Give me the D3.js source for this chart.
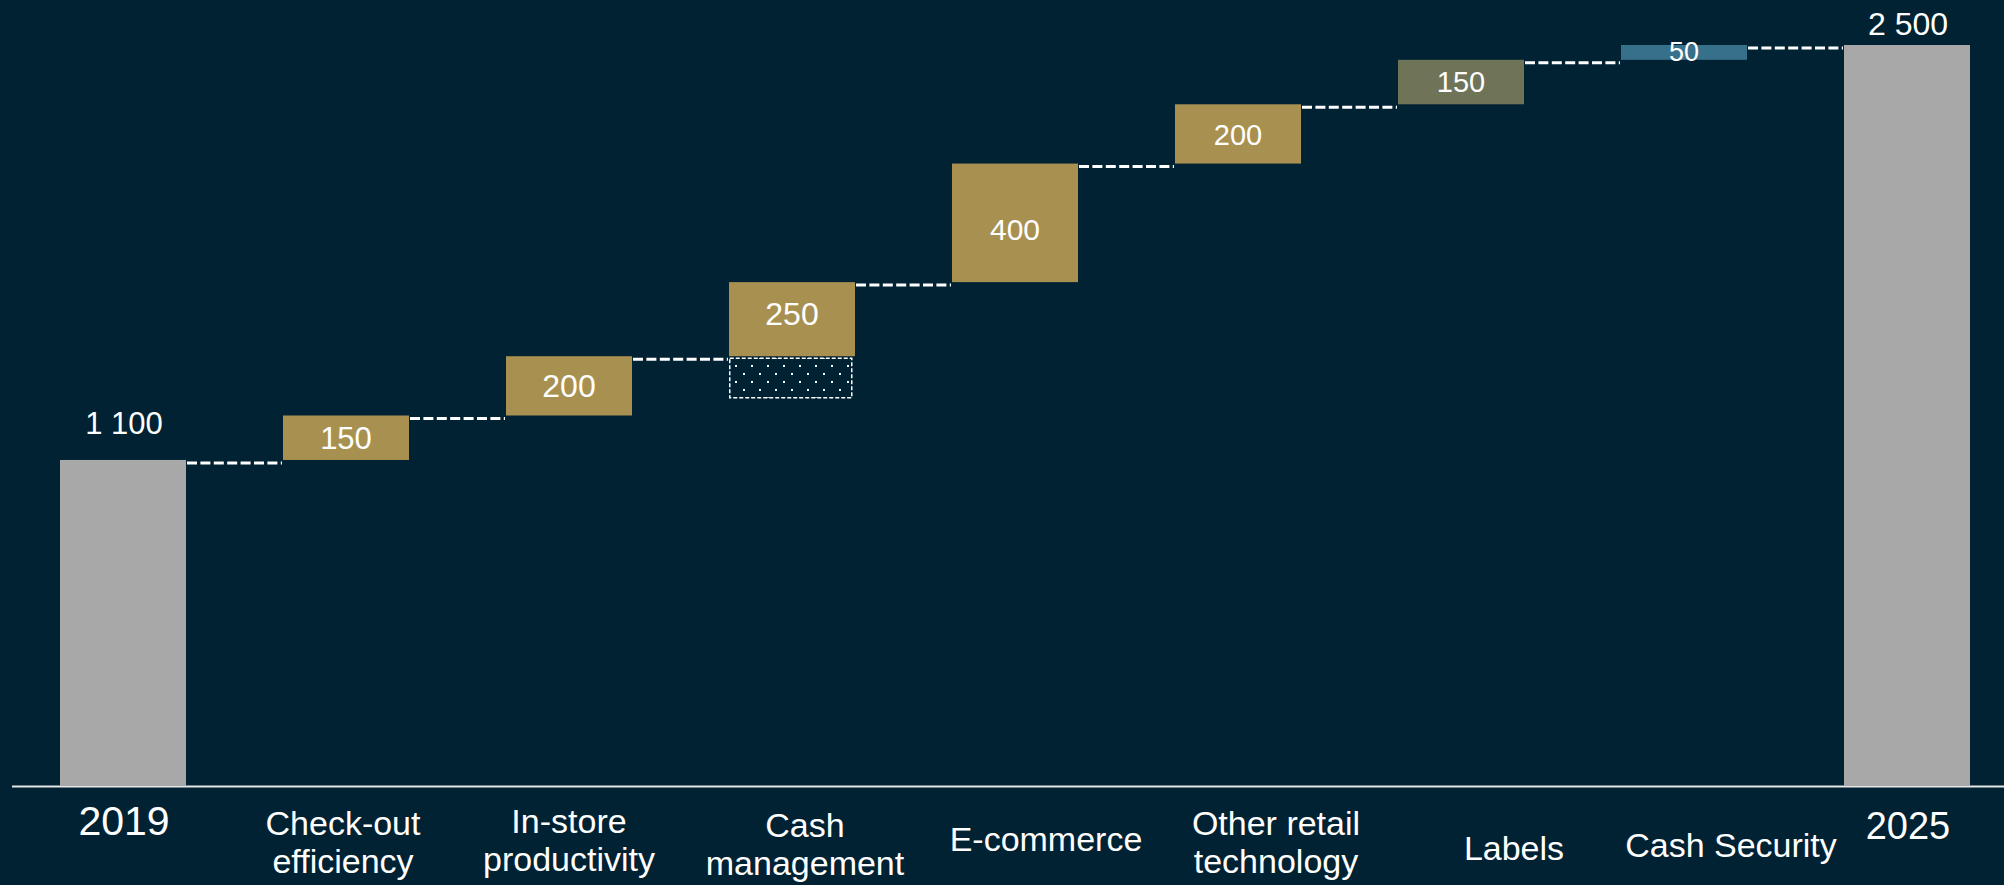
<!DOCTYPE html>
<html>
<head>
<meta charset="utf-8">
<script src="https://cdn.jsdelivr.net/npm/d3@7"></script>
<style>
  html, body { margin: 0; padding: 0; background: #012233; }
  svg { display: block; }
  text { font-family: "Liberation Sans", Arial, sans-serif; fill: #ffffff; }
</style>
</head>
<body>
<svg id="chart" width="2004" height="885"></svg>
<script>
// ---------------- data ----------------
const categories = ["2019", "Check-out\nefficiency", "In-store\nproductivity", "Cash\nmanagement",
  "E-commerce", "Other retail\ntechnology", "Labels", "Cash Security", "2025"];
const kinds = ["total", "delta", "delta", "delta", "delta", "delta", "delta", "delta", "total"];
const values = [1100, 150, 200, 250, 400, 200, 150, 50, 2500];
const valueLabels = ["1 100", "150", "200", "250", "400", "200", "150", "50", "2 500"];
const pendingValues = [0, 0, 0, 140, 0, 0, 0, 0, 0]; // dotted (not yet secured) part below a bar
const yDomain = [0, 2500];

// ---------------- styles / layout ----------------
const W = 2004, H = 885;
const barColors = ["#A8A8A8", "#A89150", "#A89150", "#A89150", "#A89150", "#A89150", "#6F7358", "#37708A", "#A8A8A8"];
const catFont = [41, 34, 34, 34, 34, 34, 34, 34, 38];
const catDx = [1, -3, 0, 13, 31, 38, 53, 47, 1];
const catBaseline = [835, 835, 833, 837, 851, 835, 860, 857, 839];
const valueFont = [31, 31, 32, 32, 30, 29, 29, 27, 32];
const valueDy = [0, 0, 0, -6, 6, 1, 0, -1, 0];
const totalLabelGap = [26, 0, 0, 0, 0, 0, 0, 0, 10];

const svg = d3.select("#chart");
svg.append("rect").attr("width", W).attr("height", H).attr("fill", "#012233");

const x = d3.scaleBand().domain(categories).range([11.5, 2018.5])
  .paddingInner(0.435).paddingOuter(0.2175);
const y = d3.scaleLinear().domain(yDomain).range([786, 45]);

// running totals
let run = 0;
const bars = categories.map((c, i) => {
  let lo, hi;
  if (kinds[i] === "total") { lo = 0; hi = values[i]; run = values[i]; }
  else { lo = run; hi = run + values[i]; run = hi; }
  return { c, i, lo, hi, level: run };
});

// pattern for dotted box
const defs = svg.append("defs");
const pat = defs.append("pattern").attr("id", "dots").attr("patternUnits", "userSpaceOnUse")
  .attr("width", 16).attr("height", 16).attr("x", 735).attr("y", 365);
pat.append("rect").attr("x", 0).attr("y", 0).attr("width", 2).attr("height", 2).attr("fill", "#ffffff");
pat.append("rect").attr("x", 8).attr("y", 8).attr("width", 2).attr("height", 2).attr("fill", "#ffffff");

// axis
const axis = svg.append("g").attr("transform", `translate(0,${y(0)})`)
  .call(d3.axisBottom(x).tickSize(0).tickFormat(""));
axis.select(".domain").attr("stroke", "#E6E6E6").attr("stroke-width", 2);

// connectors
const conn = svg.append("g");
for (let i = 0; i < bars.length - 1; i++) {
  const yy = y(bars[i].level) + 3;
  conn.append("line")
    .attr("x1", x(categories[i]) + x.bandwidth() + 1)
    .attr("x2", x(categories[i + 1]) - 1)
    .attr("y1", yy).attr("y2", yy)
    .attr("stroke", "#ffffff").attr("stroke-width", 3)
    .attr("stroke-dasharray", "10,3.4");
}

// bars
svg.append("g").selectAll("rect").data(bars).join("rect")
  .attr("x", d => x(d.c))
  .attr("width", x.bandwidth())
  .attr("y", d => y(d.hi))
  .attr("height", d => y(d.lo) - y(d.hi))
  .attr("fill", d => barColors[d.i]);

// pending dotted boxes
bars.filter(d => pendingValues[d.i] > 0).forEach(d => {
  const top = y(d.lo) + 2;
  const bot = y(d.lo - pendingValues[d.i]);
  svg.append("rect")
    .attr("x", x(d.c) + 0.75)
    .attr("width", x.bandwidth() - 4)
    .attr("y", top)
    .attr("height", bot - top)
    .attr("fill", "url(#dots)")
    .attr("stroke", "#ffffff").attr("stroke-width", 1.5)
    .attr("stroke-dasharray", "4,2");
});

// value labels
svg.append("g").selectAll("text").data(bars).join("text")
  .attr("x", d => x(d.c) + x.bandwidth() / 2 + (kinds[d.i] === "total" ? 1 : 0))
  .attr("y", d => (kinds[d.i] === "total" ? y(d.hi) - totalLabelGap[d.i] : (y(d.lo) + y(d.hi)) / 2) + valueDy[d.i])
  .attr("dy", d => kinds[d.i] === "total" ? 0 : "0.36em")
  .attr("text-anchor", "middle")
  .attr("font-size", d => valueFont[d.i])
  .text(d => valueLabels[d.i]);

// category labels
const cl = svg.append("g");
categories.forEach((c, i) => {
  const t = cl.append("text")
    .attr("x", x(c) + x.bandwidth() / 2 + catDx[i])
    .attr("y", catBaseline[i])
    .attr("text-anchor", "middle")
    .attr("font-size", catFont[i]);
  c.split("\n").forEach((line, k) => {
    t.append("tspan").attr("x", x(c) + x.bandwidth() / 2 + catDx[i])
      .attr("dy", k === 0 ? 0 : 38).text(line);
  });
});
</script>
</body>
</html>
